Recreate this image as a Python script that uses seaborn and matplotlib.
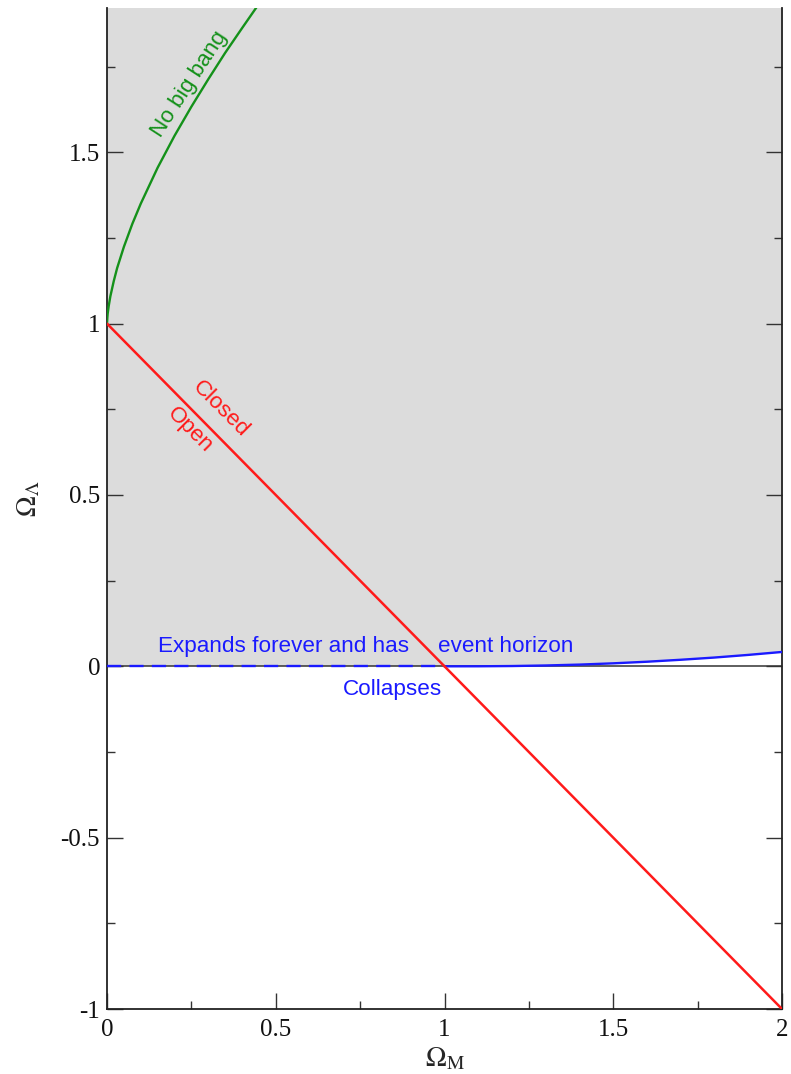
import matplotlib
matplotlib.use("Agg")
import matplotlib.pyplot as plt
import seaborn as sns

# Flat-universe boundary (Omega_M + Omega_Lambda = 1)
flat_m = [0.0, 2.0]
flat_l = [1.0, -1.0]

# "No big bang" boundary
nobang_m = [0.0, 0.001, 0.002, 0.005, 0.01, 0.02, 0.03, 0.05, 0.075, 0.1,
            0.15, 0.2, 0.25, 0.3, 0.35, 0.4, 0.45, 0.5]
nobang_l = [1.0, 1.017, 1.029, 1.051, 1.08, 1.124, 1.162, 1.224, 1.291, 1.35,
            1.455, 1.548, 1.633, 1.713, 1.79, 1.862, 1.933, 2.0]

# Expand-forever / recollapse boundary
recoll_m = [1.0, 1.1, 1.2, 1.3, 1.4, 1.5, 1.6, 1.7, 1.8, 1.9, 2.0]
recoll_l = [0.0, 0.0001, 0.0008, 0.0024, 0.005, 0.0087, 0.0134, 0.0191,
            0.0256, 0.0333, 0.0419]
horizon_m = [0.0, 1.0]
horizon_l = [0.0, 0.0]

x_ticks = [0, 0.5, 1, 1.5, 2]
x_ticklabels = ["0", "0.5", "1", "1.5", "2"]
y_ticks = [-1, -0.5, 0, 0.5, 1, 1.5]
y_ticklabels = ["-1", "-0.5", "0", "0.5", "1", "1.5"]

sns.set_theme(style="ticks")
plt.rcParams["font.family"] = ["Liberation Serif", "DejaVu Serif"]
plt.rcParams["mathtext.fontset"] = "stix"

fig = plt.figure(figsize=(7.91, 10.74), dpi=100)
ax = fig.add_axes([107 / 791, 1 - 1009 / 1074, (782 - 107) / 791, (1009 - 8) / 1074])

X_MIN, X_MAX = 0.0, 2.0
Y_MIN, Y_MAX = -1.0, 1.921

shade = "#dcdcdc"
ax.fill_between(horizon_m, horizon_l, [Y_MAX + 0.1] * len(horizon_m),
                color=shade, lw=0, zorder=0)
ax.fill_between(recoll_m, recoll_l, [Y_MAX + 0.1] * len(recoll_m),
                color=shade, lw=0, zorder=0)

ax.axhline(0, color="#333333", lw=1.1, zorder=1)

sns.lineplot(x=nobang_m, y=nobang_l, ax=ax, color="#14911a", lw=1.7,
             sort=False, estimator=None, zorder=3)
sns.lineplot(x=recoll_m, y=recoll_l, ax=ax, color="#1a1aff", lw=1.7,
             sort=False, estimator=None, zorder=3)
sns.lineplot(x=horizon_m, y=horizon_l, ax=ax, color="#1a1aff", lw=1.7,
             sort=False, estimator=None, zorder=3)
ax.lines[-1].set_dashes([6, 3.5])
sns.lineplot(x=flat_m, y=flat_l, ax=ax, color="#ff1a1a", lw=1.8,
             sort=False, estimator=None, zorder=4)

ax.set_xlim(X_MIN, X_MAX)
ax.set_ylim(Y_MIN, Y_MAX)

sans = ["Liberation Sans", "DejaVu Sans"]
fs = 16.2
ax.text(0.245, 1.70, "No big bang", color="#14911a", fontsize=fs, family=sans,
        rotation=57, ha="center", va="center", rotation_mode="anchor")
ax.text(0.336, 0.75, "Closed", color="#ff1a1a", fontsize=fs, family=sans,
        rotation=-45, ha="center", va="center", rotation_mode="anchor")
ax.text(0.245, 0.69, "Open", color="#ff1a1a", fontsize=fs, family=sans,
        rotation=-45, ha="center", va="center", rotation_mode="anchor")
ax.text(0.524, 0.057, "Expands forever and has", color="#1a1aff", fontsize=fs,
        family=sans, ha="center", va="center")
ax.text(1.18, 0.057, "event horizon", color="#1a1aff", fontsize=fs,
        family=sans, ha="center", va="center")
ax.text(0.845, -0.068, "Collapses", color="#1a1aff", fontsize=fs,
        family=sans, ha="center", va="center")

ax.set_xticks(x_ticks)
ax.set_xticklabels(x_ticklabels)
ax.set_yticks(y_ticks)
ax.set_yticklabels(y_ticklabels)
ax.set_xticks([0.25, 0.75, 1.25, 1.75], minor=True)
ax.set_yticks([-0.75, -0.25, 0.25, 0.75, 1.25, 1.75], minor=True)

ax.tick_params(which="both", direction="in", left=True, right=True,
               bottom=True, top=False, color="#333333", width=1.0)
ax.tick_params(which="major", length=11.5, labelsize=18, pad=5,
               labelcolor="#111111")
ax.tick_params(axis="x", which="major", pad=7)
ax.tick_params(which="minor", length=5.8)

for side in ["left", "right", "bottom"]:
    ax.spines[side].set_visible(True)
    ax.spines[side].set_linewidth(1.3)
    ax.spines[side].set_color("#222222")
ax.spines["top"].set_visible(False)

ax.set_xlabel(r"$\Omega_{\rm M}$", fontsize=20, labelpad=4)
ax.set_ylabel(r"$\Omega_\Lambda$", fontsize=20)
ax.yaxis.set_label_coords(-0.095, 0.51)
ax.grid(False)

fig.savefig("out.png", dpi=100, facecolor="white")
